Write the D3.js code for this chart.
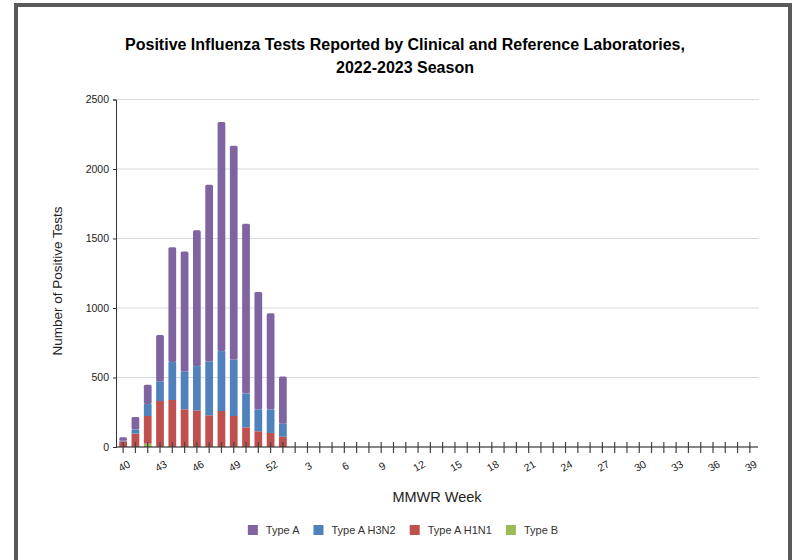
<!DOCTYPE html>
<html>
<head>
<meta charset="utf-8">
<script src="https://cdn.jsdelivr.net/npm/d3@7"></script>
<style>
  body { margin: 0; background: #fff; }
  svg { display: block; font-family: "Liberation Sans", Arial, sans-serif; }
</style>
</head>
<body>
<div id="app"></div>
<script>
const width = 792,
  height = 560;

// MMWR weeks of the season, 40..52 then 1..39
const weeks = d3.range(40, 53).concat(d3.range(1, 40)).map(String);
const tickWeeks = weeks.filter((d, i) => i % 3 === 0);

// reported weeks so far (40 .. 1)
const typeB    = [1, 2, 24, 2, 2, 2, 2, 2, 2, 2, 2, 2, 1, 1];
const typeH1N1 = [39, 94, 199, 329, 336, 269, 261, 226, 257, 221, 139, 111, 100, 73];
const typeH3N2 = [5, 31, 86, 141, 273, 273, 319, 388, 431, 407, 245, 158, 170, 94];
const typeA    = [25, 89, 139, 333, 826, 862, 977, 1271, 1648, 1537, 1221, 845, 692, 340];

const seriesKeys = ["Type B", "Type A H1N1", "Type A H3N2", "Type A"];
const legendKeys = ["Type A", "Type A H3N2", "Type A H1N1", "Type B"];
const colors = {
  "Type A": "#8064a2",
  "Type A H3N2": "#4f81bd",
  "Type A H1N1": "#c0504d",
  "Type B": "#9bbb59"
};
const yTicks = [0, 500, 1000, 1500, 2000, 2500];

const rows = typeA.map((d, i) => ({
  week: weeks[i],
  "Type B": typeB[i],
  "Type A H1N1": typeH1N1[i],
  "Type A H3N2": typeH3N2[i],
  "Type A": typeA[i]
}));

const svg = d3.select("#app")
  .append("svg")
  .attr("width", width)
  .attr("height", height);

// frame (dark border on top, left and right)
svg.append("rect").attr("x", 14).attr("y", 3).attr("width", 778).attr("height", 4).style("fill", "#595959");
svg.append("rect").attr("x", 14).attr("y", 3).attr("width", 4).attr("height", 557).style("fill", "#595959");
svg.append("rect").attr("x", 788).attr("y", 3).attr("width", 4).attr("height", 557).style("fill", "#595959");

const x = d3.scaleBand()
  .domain(weeks)
  .range([117, 756])
  .paddingInner(0.37)
  .paddingOuter(0.185);

const y = d3.scaleLinear()
  .domain([0, 2500])
  .range([447, 99.5]);

// gridlines
svg.append("g")
  .selectAll("line")
  .data(yTicks.slice(1))
  .join("line")
  .attr("x1", 116)
  .attr("x2", 759)
  .attr("y1", d => y(d))
  .attr("y2", d => y(d))
  .style("stroke", "#d9d9d9")
  .style("stroke-width", 1);

// y axis
const yAxis = svg.append("g")
  .attr("transform", "translate(116,0)")
  .call(d3.axisLeft(y).tickValues(yTicks).tickFormat(d3.format("d")).tickSize(3).tickPadding(4));
yAxis.select(".domain").attr("stroke", "#333");
yAxis.selectAll(".tick line").attr("stroke", "#333");
yAxis.selectAll(".tick text")
  .attr("fill", "#222")
  .style("font-size", "10.5px")
  .style("font-family", "Liberation Sans, Arial, sans-serif");

// stacked bars
const stacked = d3.stack().keys(seriesKeys)(rows);

svg.append("g")
  .selectAll("g")
  .data(stacked)
  .join("g")
  .style("fill", d => colors[d.key])
  .each(function (s) {
    d3.select(this).selectAll("rect")
      .data(s.filter(d => d[1] > d[0]))
      .join("rect")
      .attr("x", d => x(d.data.week))
      .attr("width", x.bandwidth())
      .attr("y", d => y(d[1]))
      .attr("height", d => y(d[0]) - y(d[1]))
      .attr("rx", s.key === "Type A" ? 1.5 : 0);
  });

// x axis
const xAxis = svg.append("g")
  .attr("transform", "translate(0,447)");
xAxis.append("line")
  .attr("x1", 116)
  .attr("x2", 758)
  .style("stroke", "#111")
  .style("stroke-width", 1.2);
xAxis.selectAll(".wtick")
  .data(weeks)
  .join("line")
  .attr("class", "wtick")
  .attr("x1", d => x(d) + x.bandwidth() / 2)
  .attr("x2", d => x(d) + x.bandwidth() / 2)
  .attr("y1", -5)
  .attr("y2", 6)
  .style("stroke", "#444")
  .style("stroke-width", 1.2);
xAxis.selectAll(".wlabel")
  .data(tickWeeks)
  .join("text")
  .attr("class", "wlabel")
  .attr("transform", d => `translate(${x(d) + x.bandwidth() / 2 + 1},19) rotate(-30)`)
  .attr("text-anchor", "middle")
  .attr("dy", "0.35em")
  .style("font-size", "10.5px")
  .style("fill", "#222")
  .text(d => d);

// titles
svg.append("text")
  .attr("x", 405)
  .attr("y", 50)
  .attr("text-anchor", "middle")
  .style("font-size", "16px")
  .style("font-weight", "bold")
  .style("fill", "#000")
  .text("Positive Influenza Tests Reported by Clinical and Reference Laboratories,");

svg.append("text")
  .attr("x", 405)
  .attr("y", 73)
  .attr("text-anchor", "middle")
  .style("font-size", "16px")
  .style("font-weight", "bold")
  .style("fill", "#000")
  .text("2022-2023 Season");

svg.append("text")
  .attr("transform", "translate(62,281) rotate(-90)")
  .attr("text-anchor", "middle")
  .style("font-size", "13.5px")
  .style("fill", "#222")
  .text("Number of Positive Tests");

svg.append("text")
  .attr("x", 437)
  .attr("y", 502)
  .attr("text-anchor", "middle")
  .style("font-size", "14.5px")
  .style("fill", "#222")
  .text("MMWR Week");

// legend
const legend = svg.append("g");
const items = legend.selectAll("g")
  .data(legendKeys)
  .join("g");
items.append("rect")
  .attr("width", 10)
  .attr("height", 10)
  .attr("y", -5)
  .style("fill", d => colors[d]);
items.append("text")
  .attr("x", 18)
  .attr("dy", "0.35em")
  .style("font-size", "11px")
  .style("fill", "#333")
  .text(d => d);

let offset = 0;
const gap = 14;
items.each(function () {
  const w = 18 + d3.select(this).select("text").node().getComputedTextLength();
  d3.select(this).attr("data-x", offset);
  offset += w + gap;
});
const total = offset - gap;
const start = 403 - total / 2;
items.attr("transform", function () {
  return `translate(${start + (+this.getAttribute("data-x"))},530)`;
});
</script>
</body>
</html>
